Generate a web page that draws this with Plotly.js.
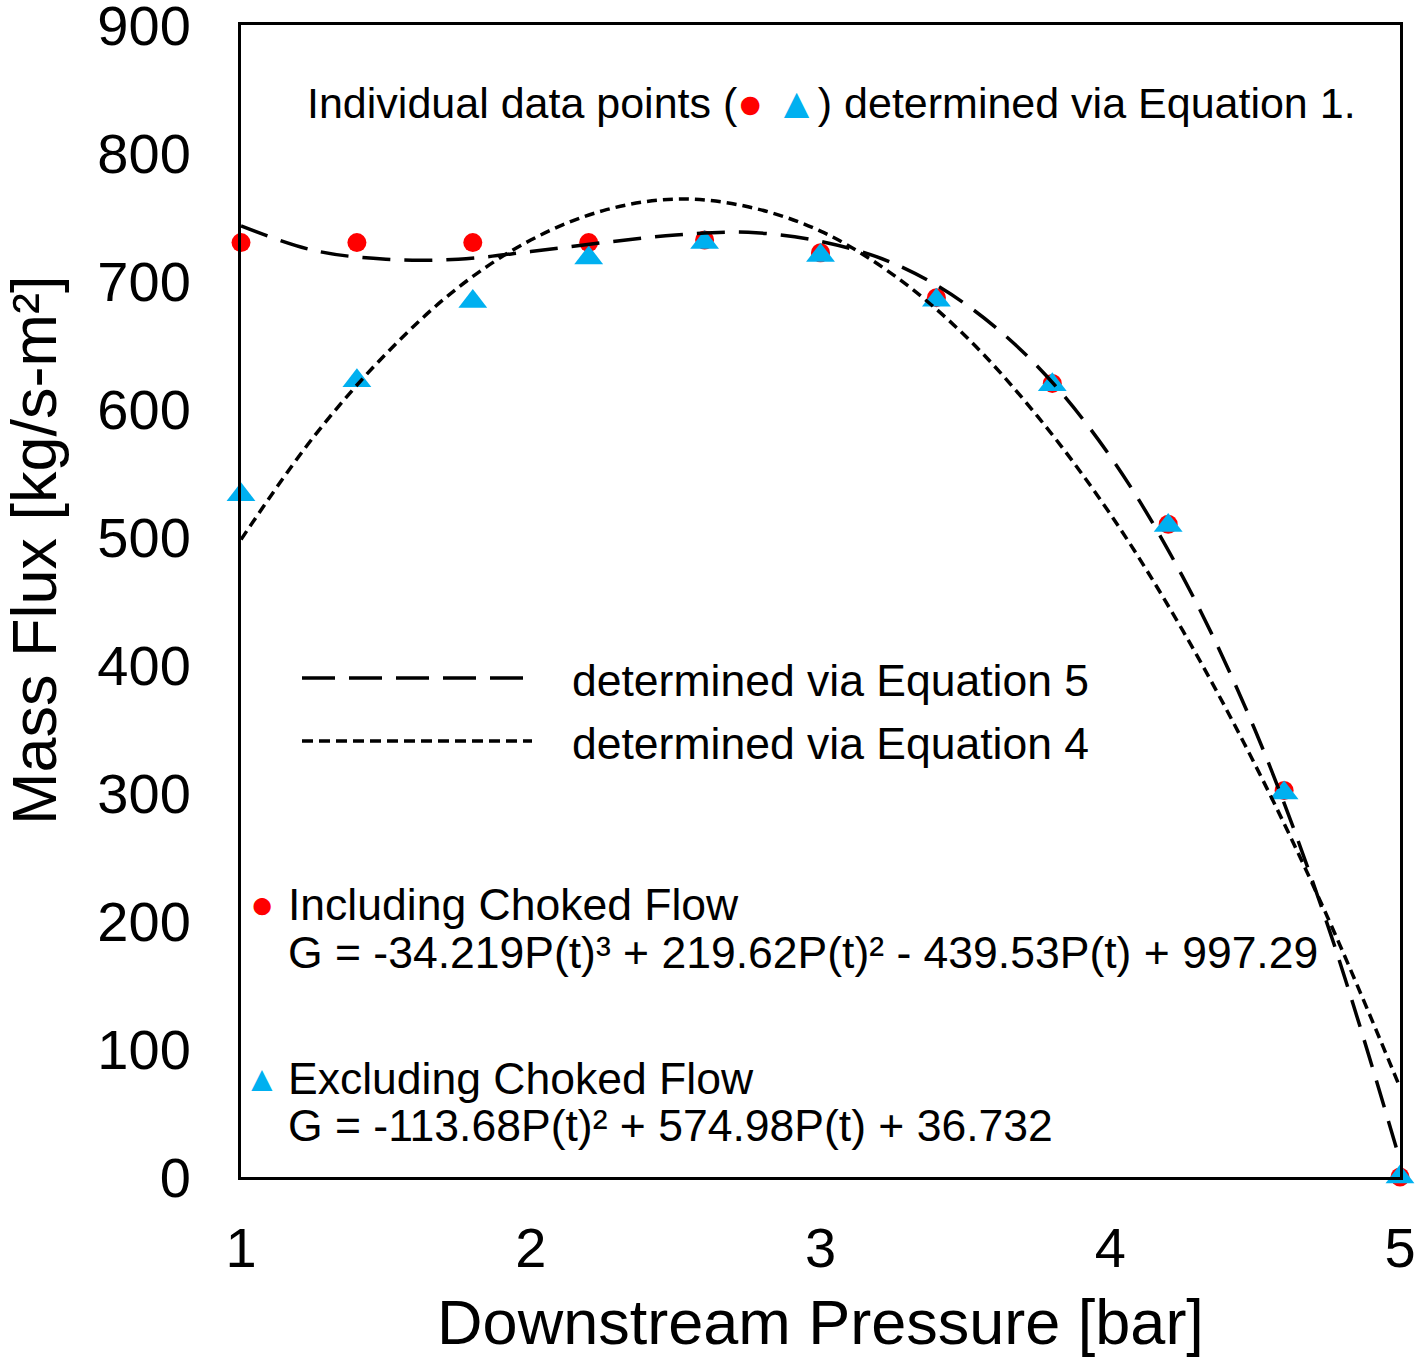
<!DOCTYPE html>
<html>
<head>
<meta charset="utf-8">
<script src="https://cdn.plot.ly/plotly-3.0.1.min.js"></script>
<style>html,body{margin:0;padding:0;background:#fff;}#chart{width:1415px;height:1363px;}</style>
</head>
<body>
<div id="chart"></div>
<script>
// Data
const pressure = [1.0, 1.4, 1.8, 2.2, 2.6, 3.0, 3.4, 3.8, 4.2, 4.6, 5.0];
const includingChoked = [730, 730, 730, 730, 732, 722, 687, 620, 510, 302, 0];
const excludingChoked = [533, 622, 684, 718, 730, 720, 685, 619, 509, 300, 0];

// Trendline curves
const curveX = [1.0, 1.25, 1.5, 1.75, 2.0, 2.25, 2.5, 2.75, 3.0, 3.25, 3.5, 3.75, 4.0, 4.25, 4.5, 4.75, 5.0];
const eq5Curve = [743, 724, 717, 717, 723, 730, 736, 738, 731, 714, 682, 633, 563, 469, 349, 197, 13];
const eq4Curve = [498, 578, 643, 695, 732, 755, 764, 758, 739, 705, 657, 594, 518, 427, 322, 203, 70];

const xTicks = [1, 2, 3, 4, 5];
const yTicks = [0, 100, 200, 300, 400, 500, 600, 700, 800, 900];

const FONT = "Liberation Sans, Arial, sans-serif";
const W = 1415, H = 1363;
const L = 241, R = 1400, T = 25, B = 1177;
const px = x => (x - L) / (R - L);
const py = y => (B - y) / (B - T);

const traces = [
  {x: pressure, y: includingChoked, type: 'scatter', mode: 'markers', cliponaxis: false,
   marker: {symbol: 'circle', size: 19, color: '#FF0000'}, showlegend: false},
  {x: pressure, y: excludingChoked, type: 'scatter', mode: 'markers', cliponaxis: false,
   marker: {symbol: 'triangle-up', size: 25, color: '#00B0F0'}, showlegend: false},
  {x: curveX, y: eq5Curve, type: 'scatter', mode: 'lines', cliponaxis: false,
   line: {color: '#000', width: 3.5, dash: '28px,14px', shape: 'spline'}, showlegend: false},
  {x: curveX, y: eq4Curve, type: 'scatter', mode: 'lines', cliponaxis: false,
   line: {color: '#000', width: 3.5, dash: '10px,6px', shape: 'spline'}, showlegend: false}
];

function ann(text, x, y, size, xanchor, color, angle) {
  return {text: text, xref: 'paper', yref: 'paper', x: px(x), y: py(y),
    xanchor: xanchor || 'left', yanchor: 'middle', showarrow: false, textangle: angle || 0,
    font: {family: FONT, size: size, color: color || '#000'}};
}

const annotations = [
  ann('Individual data points (<span style="color:#FF0000">●</span> <span style="color:#00B0F0">▲</span>) determined via Equation 1.', 305, 103, 43),
  ann('determined via Equation 5', 570, 680, 44.5),
  ann('determined via Equation 4', 570, 743, 44.5),
  ann('●', 262, 904, 40, 'center', '#FF0000'),
  ann('Including Choked Flow', 286, 904, 44.5),
  ann('G = -34.219P(t)³ + 219.62P(t)² - 439.53P(t) + 997.29', 286, 952, 44.5),
  ann('▲', 262, 1078, 36, 'center', '#00B0F0'),
  ann('Excluding Choked Flow', 286, 1078, 44.5),
  ann('G = -113.68P(t)² + 574.98P(t) + 36.732', 286, 1125, 44.5),
  ann('Mass Flux [kg/s-m²]', 34, 550, 63, 'center', '#000', -90)
];

const shapes = [
  {type: 'line', xref: 'paper', yref: 'paper', x0: px(302), x1: px(532), y0: py(678), y1: py(678),
   line: {color: '#000', width: 3.5, dash: '33px,14px'}},
  {type: 'line', xref: 'paper', yref: 'paper', x0: px(302), x1: px(532), y0: py(741), y1: py(741),
   line: {color: '#000', width: 3.5, dash: '11px,6px'}}
];

const layout = {
  width: W, height: H,
  margin: {l: L, r: W - R, t: T, b: H - B, pad: 0},
  paper_bgcolor: '#fff', plot_bgcolor: '#fff',
  font: {family: FONT, color: '#000'},
  showlegend: false,
  xaxis: {
    range: [1, 5], tickvals: xTicks, ticktext: xTicks.map(String),
    showgrid: false, zeroline: false, showline: true, mirror: true,
    linecolor: '#000', linewidth: 3, ticks: 'outside', ticklen: 20, tickcolor: 'rgba(0,0,0,0)',
    tickfont: {family: FONT, size: 56, color: '#000'}, ticklabeloverflow: 'allow',
    title: {text: 'Downstream Pressure [bar]', font: {family: FONT, size: 63, color: '#000'}, standoff: 22},
    automargin: false
  },
  yaxis: {
    range: [0, 900], tickvals: yTicks, ticktext: yTicks.map(String),
    showgrid: false, zeroline: false, showline: true, mirror: true,
    linecolor: '#000', linewidth: 3, ticks: 'outside', ticklen: 36, tickcolor: 'rgba(0,0,0,0)',
    tickfont: {family: FONT, size: 56, color: '#000'}, ticklabeloverflow: 'allow',
    automargin: false
  },
  annotations: annotations,
  shapes: shapes
};

Plotly.newPlot('chart', traces, layout, {displayModeBar: false, staticPlot: true});
</script>
</body>
</html>
